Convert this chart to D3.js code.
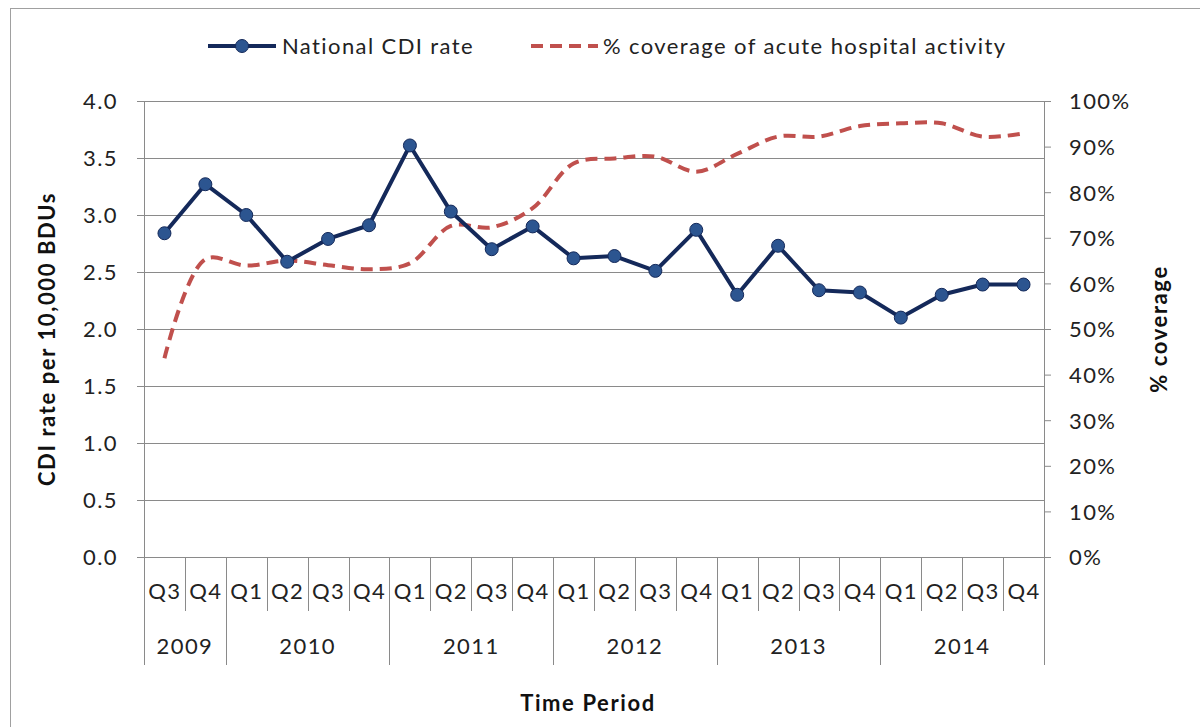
<!DOCTYPE html>
<html>
<head>
<meta charset="utf-8">
<script src="https://cdn.jsdelivr.net/npm/d3@7"></script>
<style>
  html, body { margin: 0; padding: 0; background: #fff; }
  svg { display: block; font-family: Lato, "Open Sans", sans-serif; }
  .lbl { font-size: 22px; letter-spacing: 1.4px; fill: #222; }
  .ttl { font-size: 22px; letter-spacing: 1.6px; font-weight: bold; fill: #111; }
</style>
</head>
<body>
<svg id="chart" width="1200" height="727"></svg>
<script>
// Quarterly periods, grouped by year
const years = ["2009", "2010", "2011", "2012", "2013", "2014"];
const quarters = [
  "Q3", "Q4",
  "Q1", "Q2", "Q3", "Q4",
  "Q1", "Q2", "Q3", "Q4",
  "Q1", "Q2", "Q3", "Q4",
  "Q1", "Q2", "Q3", "Q4",
  "Q1", "Q2", "Q3", "Q4"
];
const quarterYear = [
  "2009", "2009",
  "2010", "2010", "2010", "2010",
  "2011", "2011", "2011", "2011",
  "2012", "2012", "2012", "2012",
  "2013", "2013", "2013", "2013",
  "2014", "2014", "2014", "2014"
];

// National CDI rate per 10,000 bed-days used
const cdiRate = [
  2.84, 3.27,
  3.00, 2.59, 2.79, 2.91,
  3.61, 3.03, 2.70, 2.90,
  2.62, 2.64, 2.51, 2.87,
  2.30, 2.73, 2.34, 2.32,
  2.10, 2.30, 2.39, 2.39
];

// % coverage of acute hospital activity
const coverage = [
  43.6, 65.3,
  63.9, 65.0, 64.0, 63.1,
  64.4, 72.6, 72.3, 76.5,
  86.3, 87.4, 87.8, 84.5,
  88.4, 92.2, 92.2, 94.5,
  95.1, 95.1, 92.2, 92.9
];

const leftTicks = [0, 0.5, 1.0, 1.5, 2.0, 2.5, 3.0, 3.5, 4.0];
const rightTicks = [0, 10, 20, 30, 40, 50, 60, 70, 80, 90, 100];

const svg = d3.select("#chart");
const plot = { left: 144, right: 1044, top: 101, bottom: 557 };

const navy = "#14295a";
const markerFill = "#2c5590";
const red = "#c0504d";
const gridColor = "#8a8a8a";

// Outer chart border
svg.append("rect")
  .attr("x", 10.5).attr("y", 8.5)
  .attr("width", 1200).attr("height", 740)
  .attr("fill", "none").attr("stroke", "#a0a0a0").attr("stroke-width", 1);

const idx = d3.range(quarters.length);
const x = d3.scaleBand().domain(idx).range([plot.left, plot.right]).padding(0);
const xc = i => x(i) + x.bandwidth() / 2;
const yL = d3.scaleLinear().domain([0, 4]).range([plot.bottom, plot.top]);
const yR = d3.scaleLinear().domain([0, 100]).range([plot.bottom, plot.top]);

// Horizontal gridlines and left axis
const leftAxis = d3.axisLeft(yL).tickValues(leftTicks).tickFormat(d3.format(".1f"))
  .tickSize(-(plot.right - plot.left)).tickSizeOuter(0);
const gL = svg.append("g").attr("transform", `translate(${plot.left},0)`).call(leftAxis);
gL.select(".domain").attr("stroke", gridColor);
gL.selectAll(".tick line").attr("stroke", gridColor).attr("x1", -7);
gL.selectAll(".tick text").attr("class", "lbl").attr("x", -26).attr("dy", "0.36em");

// Right axis
const rightAxis = d3.axisRight(yR).tickValues(rightTicks).tickFormat(d => d + "%")
  .tickSize(7).tickSizeOuter(0);
const gR = svg.append("g").attr("transform", `translate(${plot.right},0)`).call(rightAxis);
gR.select(".domain").remove();
gR.selectAll(".tick line").attr("stroke", gridColor);
gR.selectAll(".tick text").attr("class", "lbl").attr("x", 25).attr("dy", "0.36em");
gL.attr("font-size", null).attr("font-family", null);
gR.attr("font-size", null).attr("font-family", null);
// right axis line extends down through the category rows
svg.append("line")
  .attr("x1", plot.right + 0.5).attr("x2", plot.right + 0.5)
  .attr("y1", plot.top).attr("y2", 665)
  .attr("stroke", gridColor);

// Category axis: quarter rows and year rows
const gX = svg.append("g");
idx.forEach(i => {
  const xb = Math.round(x(i)) + 0.5;
  const yearStart = i === 0 || quarterYear[i] !== quarterYear[i - 1];
  gX.append("line")
    .attr("x1", xb).attr("x2", xb)
    .attr("y1", plot.bottom).attr("y2", yearStart ? 665 : 611)
    .attr("stroke", gridColor);
  gX.append("text")
    .attr("class", "lbl")
    .attr("x", xc(i) + 0.5).attr("y", 599)
    .attr("text-anchor", "middle")
    .text(quarters[i]);
});
years.forEach(yr => {
  const ids = idx.filter(i => quarterYear[i] === yr);
  const x0 = x(ids[0]);
  const x1 = x(ids[ids.length - 1]) + x.bandwidth();
  gX.append("text")
    .attr("class", "lbl")
    .attr("x", (x0 + x1) / 2).attr("y", 654)
    .attr("text-anchor", "middle")
    .text(yr);
});

// Axis titles
svg.append("text")
  .attr("class", "ttl")
  .attr("x", 588).attr("y", 711)
  .attr("text-anchor", "middle")
  .text("Time Period");
svg.append("text")
  .attr("class", "ttl")
  .attr("transform", `translate(55,${(plot.top + plot.bottom) / 2 + 10}) rotate(-90)`)
  .attr("text-anchor", "middle")
  .text("CDI rate per 10,000 BDUs");
svg.append("text")
  .attr("class", "ttl")
  .attr("transform", `translate(1167,${(plot.top + plot.bottom) / 2}) rotate(-90)`)
  .attr("text-anchor", "middle")
  .text("% coverage");

// Coverage series (smoothed, dashed, right axis)
const covLine = d3.line()
  .x((d, i) => xc(i)).y(d => yR(d))
  .curve(d3.curveCatmullRom.alpha(0.5));
svg.append("path")
  .datum(coverage)
  .attr("d", covLine)
  .attr("fill", "none").attr("stroke", red)
  .attr("stroke-width", 4).attr("stroke-dasharray", "12,7");

// CDI rate series (left axis)
const rateLine = d3.line().x((d, i) => xc(i)).y(d => yL(d));
svg.append("path")
  .datum(cdiRate)
  .attr("d", rateLine)
  .attr("fill", "none").attr("stroke", navy)
  .attr("stroke-width", 4).attr("stroke-linejoin", "round");
svg.append("g").selectAll("circle")
  .data(cdiRate)
  .join("circle")
  .attr("cx", (d, i) => xc(i)).attr("cy", d => yL(d))
  .attr("r", 6.5)
  .attr("fill", markerFill).attr("stroke", navy).attr("stroke-width", 1);

// Legend
const lg = svg.append("g");
lg.append("line").attr("x1", 208).attr("x2", 276).attr("y1", 46).attr("y2", 46)
  .attr("stroke", navy).attr("stroke-width", 4);
lg.append("circle").attr("cx", 242).attr("cy", 46).attr("r", 6.5)
  .attr("fill", markerFill).attr("stroke", navy).attr("stroke-width", 1);
lg.append("text").attr("class", "lbl").attr("x", 282).attr("y", 54)
  .text("National CDI rate");
lg.append("line").attr("x1", 531).attr("x2", 598).attr("y1", 46).attr("y2", 46)
  .attr("stroke", red).attr("stroke-width", 4).attr("stroke-dasharray", "12,7");
lg.append("text").attr("class", "lbl").attr("x", 603).attr("y", 54)
  .text("% coverage of acute hospital activity");
</script>
</body>
</html>
